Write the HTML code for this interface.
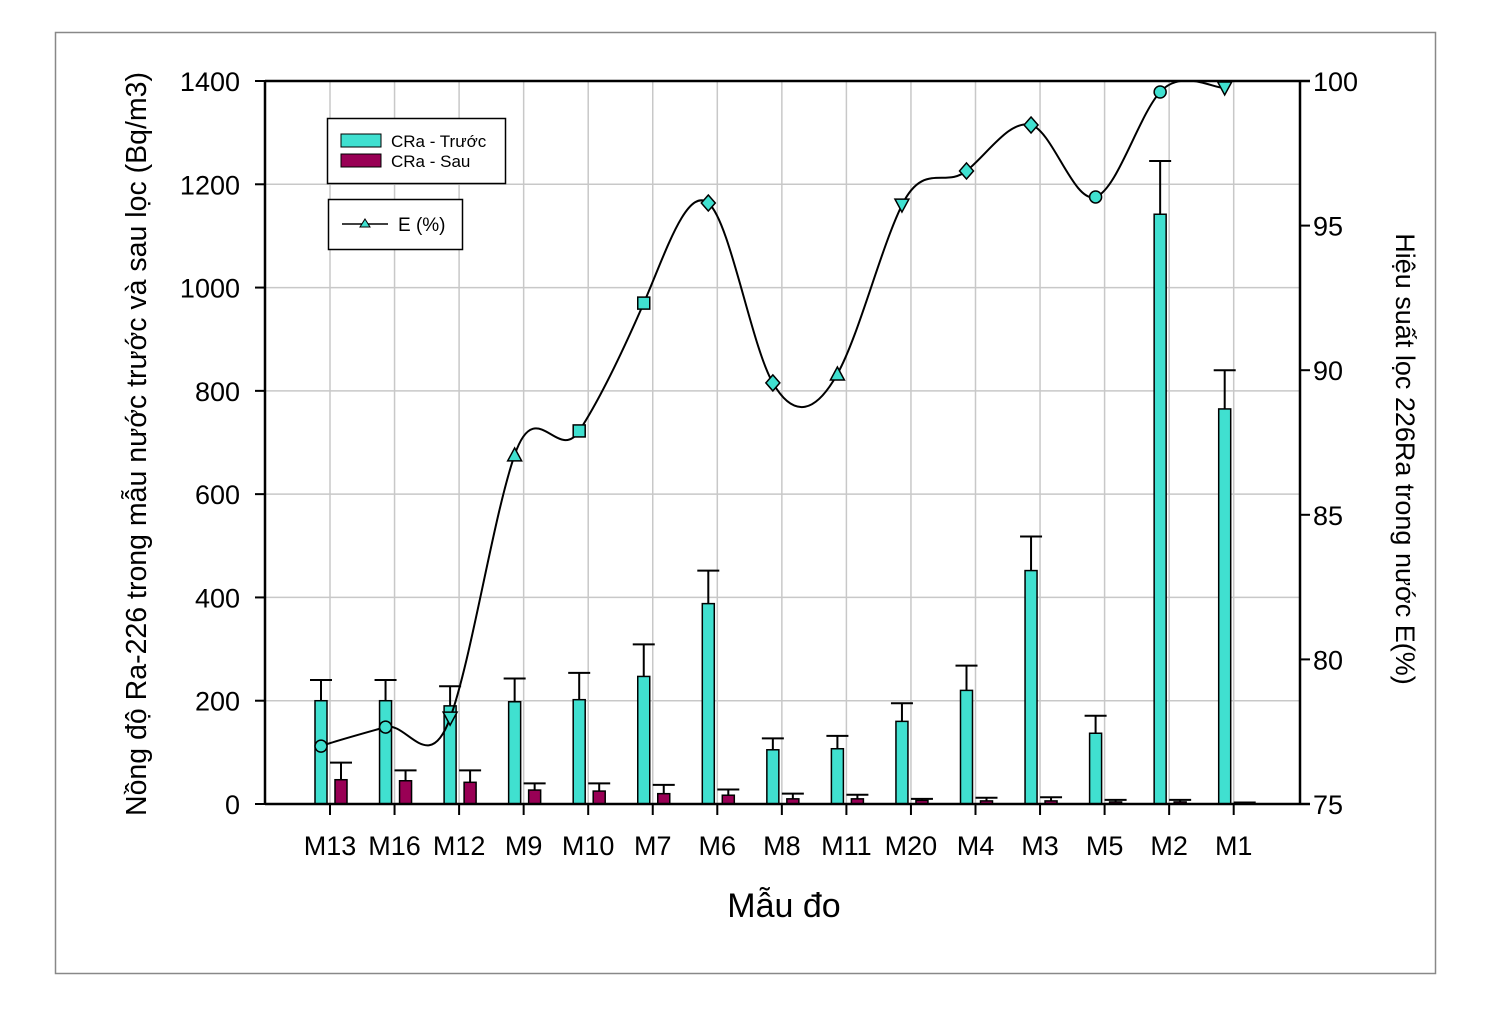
<!DOCTYPE html>
<html><head><meta charset="utf-8"><style>
body{margin:0;background:#fff;}
svg text{font-family:"Liberation Sans",Arial,sans-serif;}
</style></head><body>
<svg id="chart" width="1500" height="1014" xmlns="http://www.w3.org/2000/svg">
<rect x="55.5" y="32.5" width="1380" height="941" fill="#fff" stroke="#888" stroke-width="1.5"/>
<g id="grid"></g>
<g id="bars"></g>
<g id="line"></g>
<g id="axes"></g>
<text x="784" y="917" font-size="34" text-anchor="middle">Mẫu đo</text>
<text transform="translate(146,444) rotate(-90)" font-size="28.5" text-anchor="middle">Nồng độ Ra-226 trong mẫu nước trước và sau lọc (Bq/m3)</text>
<text transform="translate(1396,459) rotate(90)" font-size="27" text-anchor="middle">Hiệu suất lọc 226Ra trong nước E(%)</text>
<g>
<rect x="327.5" y="118.5" width="178" height="65" fill="#fff" stroke="#000" stroke-width="1.5"/>
<g><rect x="341" y="134" width="40" height="13" fill="#40e0d0" stroke="#000"/><text x="391" y="147" font-size="17">CRa - Trước</text></g>
<g><rect x="341" y="154" width="40" height="13" fill="#990055" stroke="#000"/><text x="391" y="167" font-size="17">CRa - Sau</text></g>
</g>
<g>
<rect x="328.5" y="199.5" width="134" height="50" fill="#fff" stroke="#000" stroke-width="1.5"/>
<line x1="342" y1="224" x2="388" y2="224" stroke="#000" stroke-width="1.5"/>
<polygon points="365,219 370,227 360,227" fill="#40e0d0" stroke="#000"/>
<text x="398" y="231" font-size="19">E (%)</text>
</g>
</svg>
<script>
const categories=["M13","M16","M12","M9","M10","M7","M6","M8","M11","M20","M4","M3","M5","M2","M1"];
const truoc=[200,200,190,198,202,247,388,105,107,160,220,452,137,1142,765];
const truocErr=[40,40,38,45,52,62,64,22,25,35,48,66,34,103,75];
const sau=[47,45,42,27,25,20,17,10,10,7,6,6,4,4,2];
const sauErr=[33,20,23,13,15,17,11,10,8,3,6,7,4,4,1];
const eff=[77.0,77.66,77.97,87.07,87.9,92.32,95.78,89.56,89.87,95.71,96.89,98.48,95.99,99.62,99.76];
const markers=["circle","circle","down","up","square","square","diamond","diamond","up","down","diamond","diamond","circle","circle","down"];
const yTicks=[0,200,400,600,800,1000,1200,1400];
const y2Ticks=[75,80,85,90,95,100];

const NS="http://www.w3.org/2000/svg";
const L=265,R=1300,T=81,B=804;
const xc=i=>330+i*64.55;
const y=v=>B-(v/1400)*(B-T);
const y2=v=>B-((v-75)/25)*(B-T);
function mk(tag,attrs,parent){const e=document.createElementNS(NS,tag);for(const k in attrs)e.setAttribute(k,attrs[k]);parent.appendChild(e);return e;}
const grid=document.getElementById('grid'),bars=document.getElementById('bars'),line=document.getElementById('line'),axes=document.getElementById('axes');

yTicks.forEach(v=>{if(v>0&&v<1400){const g=mk('line',{x1:L,x2:R,y1:y(v),y2:y(v),stroke:'#c8c8c8','stroke-width':1.5},grid);

}});
categories.forEach((c,i)=>{const g=mk('line',{x1:xc(i),x2:xc(i),y1:T,y2:B,stroke:'#c8c8c8','stroke-width':1.5},grid);

});

categories.forEach((c,i)=>{
 const cx=xc(i);
 [[truoc[i],truocErr[i],cx-9,'#40e0d0','bar-truoc-'+c],[sau[i],sauErr[i],cx+11,'#990055','bar-sau-'+c]].forEach(([v,e,bx,col,nm])=>{
  const eb=mk('path',{d:`M${bx},${y(v)}V${y(v+e)}M${bx-11},${y(v+e)}H${bx+11}`,stroke:'#000','stroke-width':2,fill:'none'},bars);
  
  
  const r=mk('rect',{x:bx-6,y:y(v),width:12,height:B-y(v),fill:col,stroke:'#000','stroke-width':1.5},bars);
  
  
 });
});

const pts=eff.map((v,i)=>[xc(i)-9,y2(v)]);
let d=`M${pts[0][0]},${pts[0][1]}`;
for(let i=0;i<pts.length-1;i++){
 const p0=pts[Math.max(0,i-1)],p1=pts[i],p2=pts[i+1],p3=pts[Math.min(pts.length-1,i+2)];
 const c1=[p1[0]+(p2[0]-p0[0])/6,p1[1]+(p2[1]-p0[1])/6*1.3];
 const c2=[p2[0]-(p3[0]-p1[0])/6,p2[1]-(p3[1]-p1[1])/6*1.3];
 d+=`C${c1[0]},${c1[1]} ${c2[0]},${c2[1]} ${p2[0]},${p2[1]}`;
}
mk('clipPath',{id:'clip'},line);
mk('rect',{x:L,y:T,width:R-L,height:B-T},document.getElementById('clip'));
const pth=mk('path',{d:d,fill:'none',stroke:'#000','stroke-width':2,'clip-path':'url(#clip)'},line);


pts.forEach(([px,py],i)=>{
 let m,t=markers[i];
 if(t=='circle')m=mk('circle',{cx:px,cy:py,r:6},line);
 else if(t=='square')m=mk('rect',{x:px-6,y:py-6,width:12,height:12},line);
 else if(t=='diamond')m=mk('polygon',{points:`${px},${py-8} ${px+7},${py} ${px},${py+8} ${px-7},${py}`},line);
 else if(t=='up')m=mk('polygon',{points:`${px},${py-7} ${px+7},${py+6} ${px-7},${py+6}`},line);
 else m=mk('polygon',{points:`${px},${py+7} ${px+7},${py-6} ${px-7},${py-6}`},line);
 m.setAttribute('fill','#40e0d0');m.setAttribute('stroke','#000');m.setAttribute('stroke-width','1.5');
 
 
});

mk('path',{d:`M${L},${T}V${B}M${L},${T}H${R+10}M${R},${T}V${B}M${L},${B}H${R+10}`,stroke:'#000','stroke-width':2.5,fill:'none'},axes);
yTicks.forEach(v=>{mk('line',{x1:L-10,x2:L,y1:y(v),y2:y(v),stroke:'#000','stroke-width':2},axes);
 const t=mk('text',{x:240,y:y(v)+10,'font-size':27,'text-anchor':'end'},axes);t.textContent=v;
 
 });
y2Ticks.forEach(v=>{mk('line',{x1:R,x2:R+10,y1:y2(v),y2:y2(v),stroke:'#000','stroke-width':2},axes);
 const t=mk('text',{x:1313,y:y2(v)+10,'font-size':27},axes);t.textContent=v;
 
 });
categories.forEach((c,i)=>{mk('line',{x1:xc(i),x2:xc(i),y1:B,y2:B+11,stroke:'#000','stroke-width':2},axes);
 const t=mk('text',{x:xc(i),y:855,'font-size':27,'text-anchor':'middle'},axes);t.textContent=c;
 
 });
</script>
</body></html>
